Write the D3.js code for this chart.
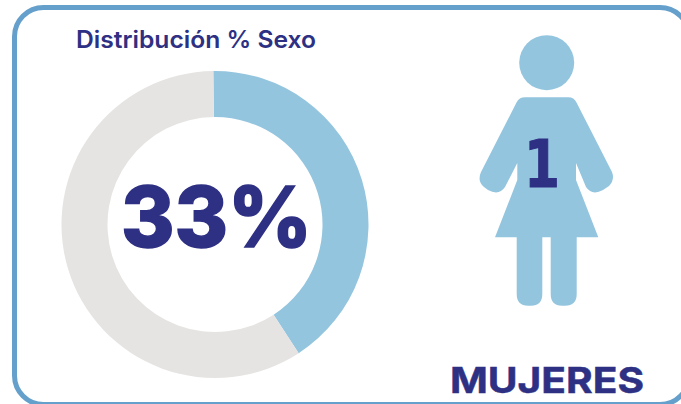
<!DOCTYPE html>
<html lang="en">
<head>
<meta charset="UTF-8">
<style>
  html, body { margin: 0; padding: 0; background: #fff; overflow: hidden; }
  text { fill: #2e3083; }
</style>
<script src="https://d3js.org/d3.v7.min.js"></script>
</head>
<body>
<div id="chart"></div>
<script>
// slices as drawn in the picture (the blue arc is longer than its 33% label)
var sexCategories = ["Mujeres", "Resto"];
var sexShares = [41, 59];
var sliceColors = ["#94c5df", "#e5e4e2"];
var titleText = "Distribución % Sexo";
var centerLabel = "33%";
var womenCount = [1];
var countLabel = "MUJERES";

var width = 681, height = 404;

var svg = d3.select("#chart").append("svg")
    .attr("width", width)
    .attr("height", height)
    .style("display", "block");

// card border, runs off the right and bottom of the window
svg.append("rect")
    .attr("x", 14.5).attr("y", 7.5)
    .attr("width", 674.5).attr("height", 397)
    .attr("rx", 29).attr("ry", 29)
    .attr("fill", "#fff")
    .attr("stroke", "#64a0cb")
    .attr("stroke-width", 5);

svg.append("text")
    .attr("x", 76).attr("y", 48)
    .attr("textLength", 240)
    .attr("lengthAdjust", "spacingAndGlyphs")
    .style("font-family", "Inter")
    .style("font-weight", 600)
    .style("font-size", "24px")
    .text(titleText);

// donut, seam sits a little left of the centre in the source
var startAngle = -0.011;
var pie = d3.pie().sort(null)
    .startAngle(startAngle)
    .endAngle(2 * Math.PI + startAngle)
    .value(function (d) { return d; });
var arc = d3.arc().innerRadius(107.5).outerRadius(153.5);

var donut = svg.append("g").attr("transform", "translate(215,224.5)");
donut.selectAll("path")
    .data(pie(sexShares))
    .enter()
    .append("path")
    .attr("d", arc)
    .attr("fill", function (d, i) { return sliceColors[i]; });

svg.append("text")
    .attr("x", 121).attr("y", 246.5)
    .attr("textLength", 191)
    .attr("lengthAdjust", "spacingAndGlyphs")
    .style("font-family", "Inter")
    .style("font-weight", 800)
    .style("font-size", "84px")
    .style("stroke", "#2e3083")
    .style("stroke-width", 1.5)
    .text(centerLabel);

// woman pictogram, one for the count
var figure = svg.append("g").attr("fill", sliceColors[0]);
figure.append("circle").attr("cx", 546.7).attr("cy", 62.7).attr("r", 27.5);
figure.append("path").attr("d",
    "M525,97.3 H568.3 Q574,97.3 576.5,102.5 L612,172 Q615,180 609,186 L603,190 " +
    "Q592,196 586,187 L576,163 V180 L598.3,237.3 H576.7 V294 Q576.7,305.7 565,305.7 H562 " +
    "Q550.7,305.7 550.7,294 V237.3 H542.3 V294 Q542.3,305.7 531,305.7 H528 " +
    "Q516.7,305.7 516.7,294 V237.3 H495 L517.3,180 V163 L505,187 Q499,196 488,190 L484,187 " +
    "Q477,181 481,172 L516.5,102.5 Q519,97.3 525,97.3 Z");

svg.selectAll("text.count")
    .data(womenCount)
    .enter()
    .append("text")
    .attr("class", "count")
    .attr("x", 524).attr("y", 187)
    .attr("textLength", 36)
    .attr("lengthAdjust", "spacingAndGlyphs")
    .style("font-family", "DejaVu Sans")
    .style("font-weight", 700)
    .style("font-size", "65px")
    .style("stroke", "#2e3083")
    .style("stroke-width", 1)
    .text(function (d) { return d; });

svg.append("text")
    .attr("x", 450).attr("y", 393)
    .attr("textLength", 194)
    .attr("lengthAdjust", "spacingAndGlyphs")
    .style("font-family", "Inter")
    .style("font-weight", 700)
    .style("font-size", "36px")
    .style("stroke", "#2e3083")
    .style("stroke-width", 0.5)
    .text(countLabel);
</script>
</body>
</html>
